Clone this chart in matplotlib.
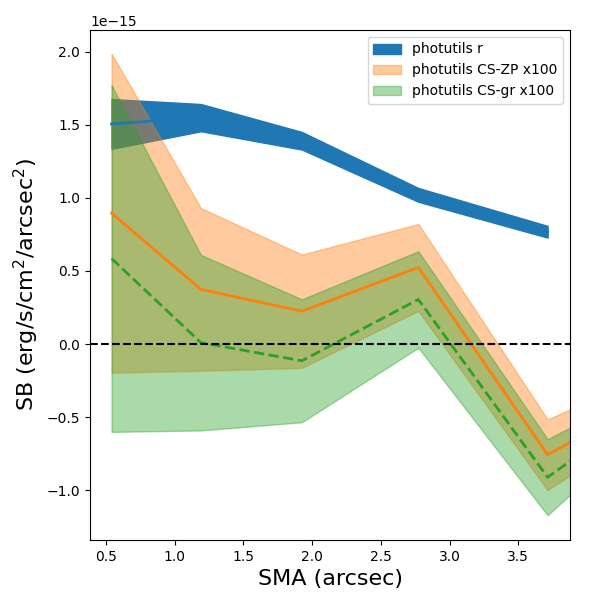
import matplotlib
matplotlib.use("Agg")
import matplotlib.pyplot as plt
import numpy as np

# SMA (arcsec)
sma_r = [0.54, 1.19, 1.925, 2.773, 3.714]
sma_cs = [0.54, 1.19, 1.925, 2.773, 3.714, 4.8]

# surface brightness, units of 1e-15 erg/s/cm^2/arcsec^2
r_mean = [1.505, 1.548, 1.39, 1.02, 0.768]
r_err = [0.17, 0.093, 0.06, 0.047, 0.04]

cszp_mean = [0.895, 0.374, 0.225, 0.524, -0.756, -0.20]   # x100
cszp_err = [1.09, 0.556, 0.387, 0.297, 0.242, 0.13]

csgr_mean = [0.585, 0.01, -0.114, 0.305, -0.91, -0.18]    # x100
csgr_err = [1.185, 0.60, 0.42, 0.33, 0.26, 0.06]

scale = 1e-15

fig = plt.figure(figsize=(6, 6), dpi=100)
ax = fig.add_axes([0.15, 0.1, 0.80, 0.85])

xr = np.array(sma_r)
xc = np.array(sma_cs)
rm = np.array(r_mean) * scale
re = np.array(r_err) * scale
om = np.array(cszp_mean) * scale
oe = np.array(cszp_err) * scale
gm = np.array(csgr_mean) * scale
ge = np.array(csgr_err) * scale

ax.fill_between(xr, rm - re, rm + re, color="C0", alpha=1.0, label="photutils r")
ax.fill_between(xc, om - oe, om + oe, color="C1", alpha=0.4, label="photutils CS-ZP x100")
ax.fill_between(xc, gm - ge, gm + ge, color="C2", alpha=0.4, label="photutils CS-gr x100")

ax.plot(xr, rm, color="C0", lw=2)
ax.plot(xc, om, color="C1", lw=2)
ax.plot(xc, gm, color="C2", lw=2, ls="--")
ax.axhline(0, color="k", ls="--", lw=1.5)

ax.set_xlim(0.383, 3.877)
ax.set_ylim(-1.339e-15, 2.147e-15)

ax.set_xlabel("SMA (arcsec)", fontsize=16)
ax.set_ylabel("SB (erg/s/cm$^2$/arcsec$^2$)", fontsize=16)
ax.legend(loc="upper right")

fig.savefig("out.png", dpi=100)
